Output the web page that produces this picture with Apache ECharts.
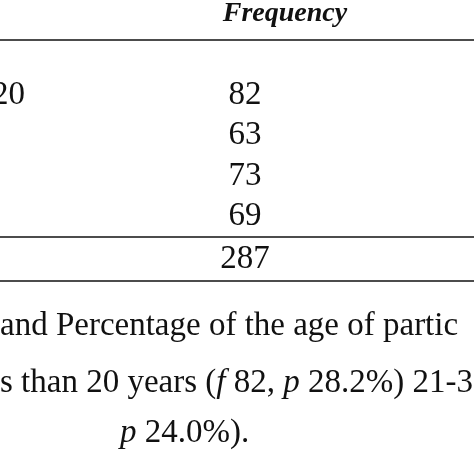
<!DOCTYPE html>
<html><head><meta charset="utf-8">
<script src="https://cdn.jsdelivr.net/npm/echarts@6/dist/echarts.min.js"></script>
<style>html,body{margin:0;background:#fff}#main{width:474px;height:474px}</style>
</head><body><div id="main"></div>
<script>
var header = 'Frequency';
var rowLabels = ['20', '', '', ''];
var frequency = [82, 63, 73, 69];
var total = 287;
var caption = [
    'and Percentage of the age of partic',
    's than 20 years (',
    ' 24.0%).'
];

var chart = echarts.init(document.getElementById('main'));
var font = '"Liberation Serif", "Times New Roman", serif';
var S = 33;
var g = [];
function txt(x, y, s, opt) {
    opt = opt || {};
    g.push({type: 'text', x: x, y: y, style: {text: s, font: (opt.style || '') + ' ' + (opt.size || S) + 'px ' + font,
        fill: '#111', textAlign: opt.align || 'left', textVerticalAlign: 'middle'}});
}
function line(y) {
    g.push({type: 'line', shape: {x1: 0, y1: y, x2: 474, y2: y}, style: {stroke: '#111', lineWidth: 1.5}});
}
txt(285, 14, header, {style: 'italic bold', size: 28, align: 'center'});
line(40);
var ys = [95, 135, 176, 216];
frequency.forEach(function (v, i) {
    if (rowLabels[i]) txt(-8, ys[i], rowLabels[i]);
    txt(245, ys[i], String(v), {align: 'center'});
});
line(237);
txt(245, 259, String(total), {align: 'center'});
line(281);
txt(0, 326, caption[0]);
var parts = [['s than 20 years (', ''], ['f', 'italic'], [' 82, ', ''], ['p', 'italic'], [' 28.2%) 21-3', '']];
var x = 0;
var ctx = document.createElement('canvas').getContext('2d');
parts.forEach(function (p) {
    txt(x, 383, p[0], {style: p[1]});
    ctx.font = (p[1] || '') + ' ' + S + 'px ' + font;
    x += ctx.measureText(p[0]).width;
});
txt(120, 433, 'p', {style: 'italic'});
ctx.font = 'italic ' + S + 'px ' + font;
txt(120 + ctx.measureText('p').width, 433, caption[2]);

chart.setOption({animation: false, graphic: g});
</script></body></html>
